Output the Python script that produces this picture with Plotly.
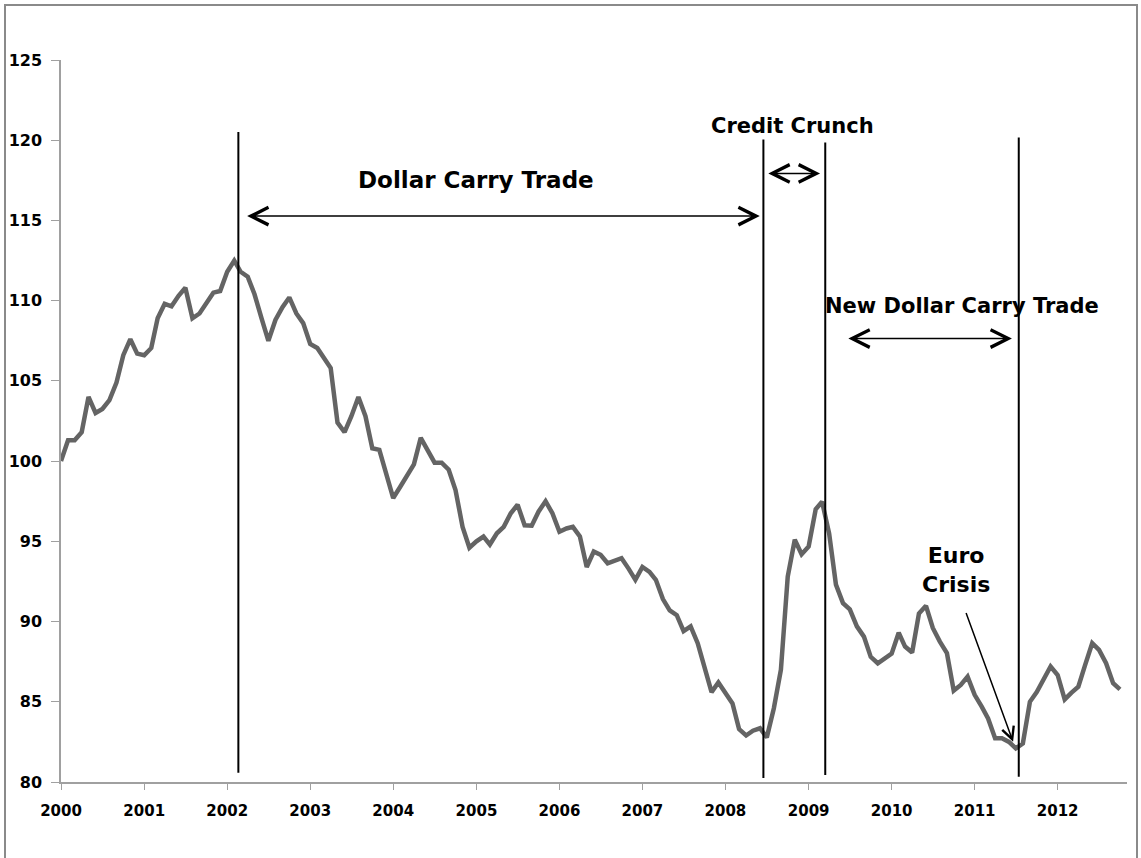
import pandas as pd
import plotly.graph_objects as go

# ---- data ----
start_month = "2000-01-01"
index_values = [
    100.0, 101.3, 101.3, 101.8, 104.0, 103.0, 103.25, 103.8, 104.9, 106.6, 107.6, 106.7,
    106.6, 107.05, 108.9, 109.8, 109.65, 110.3, 110.8, 108.9, 109.2, 109.85, 110.5, 110.6,
    111.8, 112.5, 111.8, 111.5, 110.4, 108.9, 107.5, 108.8, 109.6, 110.2, 109.2, 108.6,
    107.3, 107.05, 106.5, 105.8, 102.4, 101.8, 102.8, 104.0, 102.8, 100.8, 100.7, 99.25,
    97.7, 98.4, 99.1, 99.8, 101.45, 100.7, 99.9, 99.9, 99.46, 98.2, 95.9, 94.6,
    95.0, 95.3, 94.8, 95.5, 95.9, 96.75, 97.28, 96.0, 95.97, 96.85, 97.5, 96.75,
    95.6, 95.8, 95.9, 95.3, 93.4, 94.36, 94.16, 93.63, 93.8, 93.95, 93.3, 92.6,
    93.4, 93.1, 92.6, 91.4, 90.7, 90.4, 89.4, 89.7, 88.65, 87.2, 85.6, 86.2,
    85.6, 84.9, 83.3, 82.9, 83.2, 83.35, 82.78, 84.6, 87.0, 92.8, 95.1, 94.2,
    94.68, 97.0, 97.47, 95.5, 92.3, 91.15, 90.76, 89.7, 89.06, 87.8, 87.4, 87.7,
    88.0, 89.3, 88.44, 88.07, 90.5, 90.98, 89.6, 88.75, 88.03, 85.7, 86.05, 86.57,
    85.43, 84.7, 83.96, 82.72, 82.72, 82.5, 82.1, 82.4, 85.0, 85.6, 86.36, 87.2,
    86.67, 85.15, 85.56, 85.94, 87.3, 88.65, 88.23, 87.4, 86.16, 85.77,
]
dates = pd.date_range(start_month, periods=len(index_values), freq="MS")

event_dates = ["2002-02-19", "2008-06-16", "2009-03-15", "2011-07-14"]
y_ticks = [80, 85, 90, 95, 100, 105, 110, 115, 120, 125]
year_ticks = list(range(2000, 2013))

labels = ["Dollar Carry Trade", "Credit Crunch", "New Dollar Carry Trade", "Euro<br>Crisis"]

# ---- figure ----
fig = go.Figure()
fig.add_trace(go.Scatter(
    x=dates, y=index_values, mode="lines",
    line=dict(color="#646464", width=4.5), showlegend=False, hoverinfo="skip",
))

# vertical event lines
line_spans = [(80.58, 120.52), (80.25, 120.05), (80.44, 119.86), (80.33, 120.17)]
for d, (y0, y1) in zip(event_dates, line_spans):
    fig.add_shape(type="line", xref="x", yref="y", x0=d, x1=d, y0=y0, y1=y1,
                  line=dict(color="black", width=2))

FONT = "DejaVu Sans"

# double-headed arrows
arrows = [
    ("2002-03-23", "2008-05-31", 115.27),
    ("2008-07-01", "2009-02-20", 117.93),
    ("2009-06-18", "2011-06-14", 107.64),
]
for a, b, yv in arrows:
    fig.add_annotation(x=b, y=yv, ax=a, ay=yv, xref="x", yref="y", axref="x", ayref="y",
                       text="", showarrow=True, arrowhead=5, startarrowhead=5,
                       arrowside="end+start", arrowsize=2.3, startarrowsize=2.3,
                       arrowwidth=1.5, arrowcolor="black")

# Euro crisis pointer
fig.add_annotation(x="2011-06-19", y=82.51, ax="2010-11-22", ay=90.62,
                   xref="x", yref="y", axref="x", ayref="y", text="",
                   showarrow=True, arrowhead=5, arrowsize=1.6, arrowwidth=1.5,
                   arrowcolor="black")

# labels
label_pos = [("2004-12-30", 117.49), ("2008-10-24", 120.86), ("2010-11-05", 109.69),
             ("2010-10-10", 93.23)]
label_size = [23, 21, 21, 22]
for txt, (xv, yv), sz in zip(labels, label_pos, label_size):
    fig.add_annotation(x=xv, y=yv, xref="x", yref="y", text="<b>%s</b>" % txt,
                       showarrow=False, font=dict(family=FONT, size=sz, color="black"),
                       align="center")

# outer chart border
L, R, T, B = 61, 1127, 60, 782
W = R - L
H = B - T
fig.add_shape(type="rect", xref="paper", yref="paper",
              x0=(5 - L) / W, x1=(1137 - L) / W, y0=(B - 870) / H, y1=(B - 5) / H,
              line=dict(color="#8a8a8a", width=2), fillcolor="rgba(0,0,0,0)", layer="below")

fig.update_layout(
    width=1141, height=858,
    margin=dict(l=L, r=1141 - R, t=T, b=858 - B, autoexpand=False),
    paper_bgcolor="white", plot_bgcolor="white",
    showlegend=False,
    xaxis=dict(
        type="date", automargin=False,
        range=["2000-01-01", "2012-11-01"],
        tickvals=[pd.Timestamp(f"{y}-01-01") for y in year_ticks],
        ticktext=[str(y) for y in year_ticks],
        ticks="outside", ticklen=6, tickcolor="#a0a0a0", tickwidth=1,
        showline=True, linecolor="#a0a0a0", linewidth=1.5,
        showgrid=False, zeroline=False, ticklabelstandoff=8,
        tickfont=dict(family=FONT, size=15, color="black", weight="bold"),
    ),
    yaxis=dict(
        range=[80, 125], automargin=False,
        tickvals=y_ticks,
        ticks="outside", ticklen=8, tickcolor="#a0a0a0", tickwidth=1,
        showline=True, linecolor="#a0a0a0", linewidth=1.5,
        showgrid=False, zeroline=False, ticklabelstandoff=6,
        tickfont=dict(family=FONT, size=16, color="black", weight="bold"),
    ),
)

fig.write_html("out.html", config={"displayModeBar": False},
               post_script="document.body.style.margin='0';")
